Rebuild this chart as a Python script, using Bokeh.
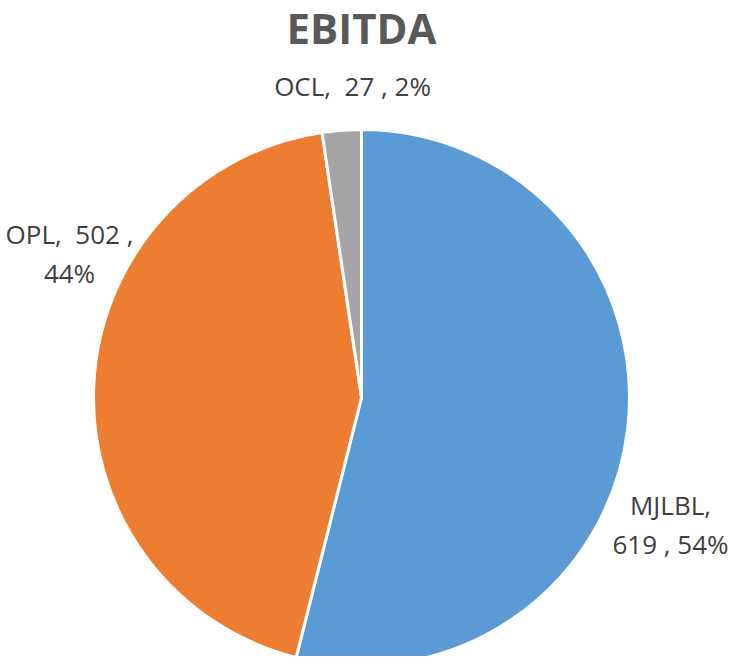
import math
import pandas as pd
from bokeh.plotting import figure
from bokeh.models import ColumnDataSource, Range1d
from bokeh.core.properties import value
from bokeh.embed import file_html
from bokeh.resources import INLINE

# ---- data ----
categories = ["MJLBL", "OPL", "OCL"]
values = [619, 502, 27]
percents = ["54%", "44%", "2%"]
colors = ["#5B9BD5", "#ED7D31", "#A5A5A5"]
title_text = "EBITDA"

# ---- layout ----
W, H = 730, 656
CX, CY_TOP, R = 361, 397, 268
CY = H - CY_TOP

df = pd.DataFrame({"cat": categories, "val": values, "color": colors})
total = df["val"].sum()
frac = df["val"] / total
cum_end = frac.cumsum()
cum_start = cum_end - frac
df["start"] = math.pi / 2 - cum_end * 2 * math.pi
df["end"] = math.pi / 2 - cum_start * 2 * math.pi
df["x"] = CX
df["y"] = CY

p = figure(width=W, height=H, x_range=Range1d(0, W), y_range=Range1d(0, H),
           output_backend="svg", toolbar_location=None, min_border=0,
           x_axis_location=None, y_axis_location=None, outline_line_color=None)
p.grid.visible = False
p.background_fill_color = "white"
p.border_fill_color = "white"

src = ColumnDataSource(df)
p.wedge(x="x", y="y", radius=R, start_angle="start", end_angle="end",
        direction="anticlock", fill_color="color", line_color="white",
        line_width=3, source=src)

# title
p.text(x=[361], y=[H - 27], text=[title_text], text_font=value("Open Sans"),
       text_font_style="bold", text_font_size="42px", text_color="#595959",
       text_align="center", text_baseline="middle")

# labels (two-line layout for MJLBL and OPL, one line for OCL)
NB = "\u00a0"
label_lines = [
    [f"{categories[0]},", f"{values[0]}{NB},{NB}{percents[0]}"],
    [f"{categories[1]},{NB}{NB}{values[1]}{NB},", f"{percents[1]}"],
    [f"{categories[2]},{NB}{NB}{values[2]}{NB},{NB}{percents[2]}"],
]
label_anchor = [(670, H - 504), (69, H - 233), (352, H - 85)]
line_gap = 39
lx, ly, lt = [], [], []
for lines, (ax, ay) in zip(label_lines, label_anchor):
    for i, t in enumerate(lines):
        lx.append(ax)
        ly.append(ay - i * line_gap)
        lt.append(t)
p.text(x=lx, y=ly, text=lt, text_font=value("Open Sans"), text_font_size="26px",
       text_color="#404040", text_align="center", text_baseline="middle")

open("out.html", "w").write(file_html(p, INLINE))
